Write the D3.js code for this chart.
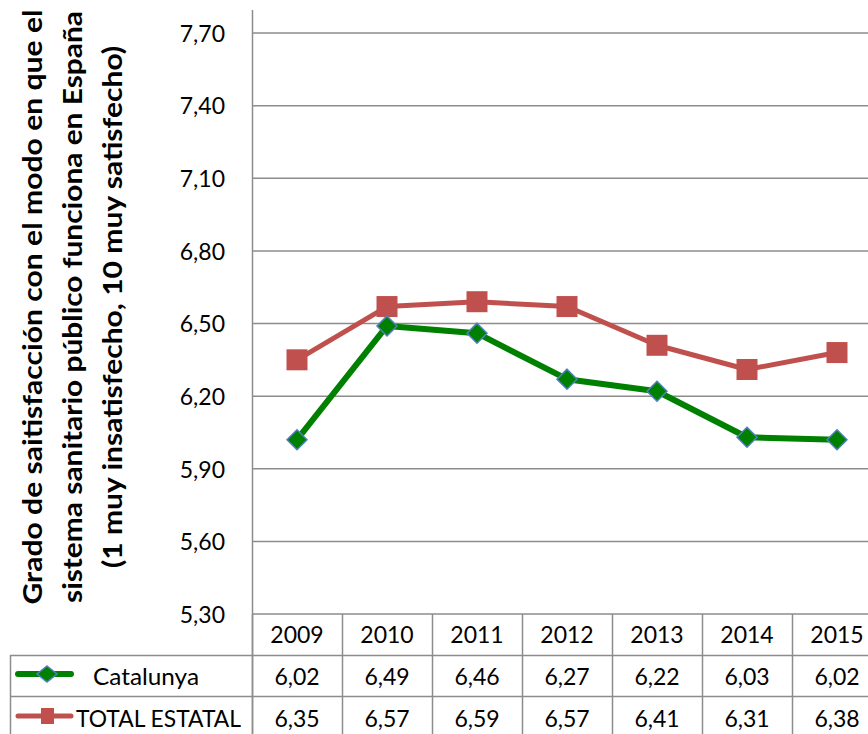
<!DOCTYPE html>
<html><head><meta charset="utf-8">
<script src="https://cdn.jsdelivr.net/npm/d3@7"></script>
<style>body{margin:0;background:#fff}svg{display:block}</style>
</head><body>
<svg id="c" width="868" height="734"></svg>
<script>
const years = ["2009","2010","2011","2012","2013","2014","2015"];
const catalunya = [6.02,6.49,6.46,6.27,6.22,6.03,6.02];
const totalEstatal = [6.35,6.57,6.59,6.57,6.41,6.31,6.38];
const yTicks = [5.30,5.60,5.90,6.20,6.50,6.80,7.10,7.40,7.70];
const seriesNames = ["Catalunya","TOTAL ESTATAL"];
const titleLines = ["Grado de saitisfacción con el modo en que el","sistema sanitario público funciona en España","(1 muy insatisfecho, 10 muy satisfecho)"];

(function(){
const svg = d3.select("#c");
const FONT = "Lato, 'Open Sans', sans-serif";
const grid = "#8c8c8c";
const pLeft = 252, pRight = 882, pTop = 33, pBottom = 614;
const x = d3.scaleBand().domain(years).range([pLeft, pRight]).padding(0);
const y = d3.scaleLinear().domain([5.3, 7.7]).range([pBottom, pTop]);
const loc = d3.formatLocale({decimal:",", thousands:".", grouping:[3], currency:["","€"]});
const fmt = loc.format(".2f");

// gridlines
svg.append("g").selectAll("line").data(yTicks).join("line")
  .attr("x1", pLeft).attr("x2", 868).attr("y1", d=>y(d)).attr("y2", d=>y(d))
  .attr("stroke", grid).attr("stroke-width", 1.5);

// y axis
const yAxis = d3.axisLeft(y).tickValues(yTicks).tickFormat(fmt).tickSize(0).tickPadding(27);
const ga = svg.append("g").attr("transform", `translate(${pLeft},0)`).call(yAxis);
ga.select(".domain").remove();
ga.selectAll("text").attr("font-family", FONT).attr("font-size", 23).attr("fill", "#000").attr("dy","0.36em");
svg.append("line").attr("x1", pLeft+0.5).attr("x2", pLeft+0.5).attr("y1", 10).attr("y2", 734)
  .attr("stroke", grid).attr("stroke-width", 1.5);

// y title
const tg = svg.append("text").attr("transform", "translate(0,307) rotate(-90)")
  .attr("text-anchor","middle").attr("font-family", FONT).attr("font-weight","bold").attr("font-size", 26).attr("fill","#000");
const tl = [595, 592, 522];
titleLines.forEach((t,i)=>tg.append("tspan").attr("x",0).attr("y", 42 + i*40)
  .attr("textLength", tl[i]).attr("lengthAdjust","spacingAndGlyphs").text(t));

// table lines
const cx = d => x(d) + x.bandwidth()/2;
svg.append("g").selectAll("line").data(years.map(d=>x(d)).concat([pRight])).join("line")
  .attr("x1", d=>d+0.5).attr("x2", d=>d+0.5).attr("y1", pBottom).attr("y2", 734)
  .attr("stroke", grid).attr("stroke-width", 1.5);
svg.append("g").selectAll("line").data([655.5, 696.5]).join("line")
  .attr("x1", 10).attr("x2", 868).attr("y1", d=>d).attr("y2", d=>d)
  .attr("stroke", grid).attr("stroke-width", 1.5);
svg.append("line").attr("x1", 10.5).attr("x2", 10.5).attr("y1", 655).attr("y2", 734)
  .attr("stroke", grid).attr("stroke-width", 1.5);

// header years
svg.append("g").selectAll("text").data(years).join("text")
  .attr("x", cx).attr("y", 643).attr("text-anchor","middle")
  .attr("font-family", FONT).attr("font-size", 23).text(d=>d);

const rows = [
  {name: seriesNames[0], vals: catalunya, color:"#008000", w:6, marker:"diamond", ty:685},
  {name: seriesNames[1], vals: totalEstatal, color:"#c0504d", w:5, marker:"square", ty:727}
];
rows.forEach(r=>{
  svg.append("g").selectAll("text").data(r.vals).join("text")
    .attr("x", (d,i)=>cx(years[i])).attr("y", r.ty).attr("text-anchor","middle")
    .attr("font-family", FONT).attr("font-size", 23).text(d=>fmt(d));
});

function drawMarker(g, type, px, py, color, hw, hh){
  if(type==="diamond"){
    g.append("path").attr("d", `M${px},${py-hh}L${px+hw},${py}L${px},${py+hh}L${px-hw},${py}Z`)
      .attr("fill", color).attr("stroke","#4f81bd").attr("stroke-width",1.5);
  } else {
    g.append("rect").attr("x", px-hw).attr("y", py-hh).attr("width",2*hw).attr("height",2*hh)
      .attr("fill", color);
  }
}

const line = d3.line().x((d,i)=>cx(years[i])).y(d=>y(d));
[rows[1], rows[0]].forEach(r=>{
  const g = svg.append("g");
  g.append("path").attr("d", line(r.vals)).attr("fill","none").attr("stroke", r.color)
    .attr("stroke-width", r.w).attr("stroke-linejoin","round");
  const s = r.marker==="diamond" ? 10 : 10.5;
  r.vals.forEach((v,i)=>drawMarker(g, r.marker, cx(years[i]), y(v), r.color, s, s));
});

// legend keys in table
rows.forEach((r,k)=>{
  const ly = k===0 ? 674 : 716;
  const g = svg.append("g");
  g.append("line").attr("x1",18).attr("x2",71).attr("y1",ly).attr("y2",ly).attr("stroke",r.color)
    .attr("stroke-width",r.w).attr("stroke-linecap","round");
  if(r.marker==="diamond") drawMarker(g, r.marker, 47, ly, r.color, 10, 8);
  else drawMarker(g, r.marker, 47.5, ly, r.color, 6.5, 8);
});
svg.append("text").attr("x",93).attr("y",685).attr("text-anchor","start").attr("font-family",FONT).attr("font-size",23)
  .attr("textLength",106).attr("lengthAdjust","spacingAndGlyphs").text(seriesNames[0]);
svg.append("text").attr("x",76).attr("y",727).attr("text-anchor","start").attr("font-family",FONT).attr("font-size",23)
  .attr("textLength",165).attr("lengthAdjust","spacingAndGlyphs").text(seriesNames[1]);
})();
</script>
</body></html>
